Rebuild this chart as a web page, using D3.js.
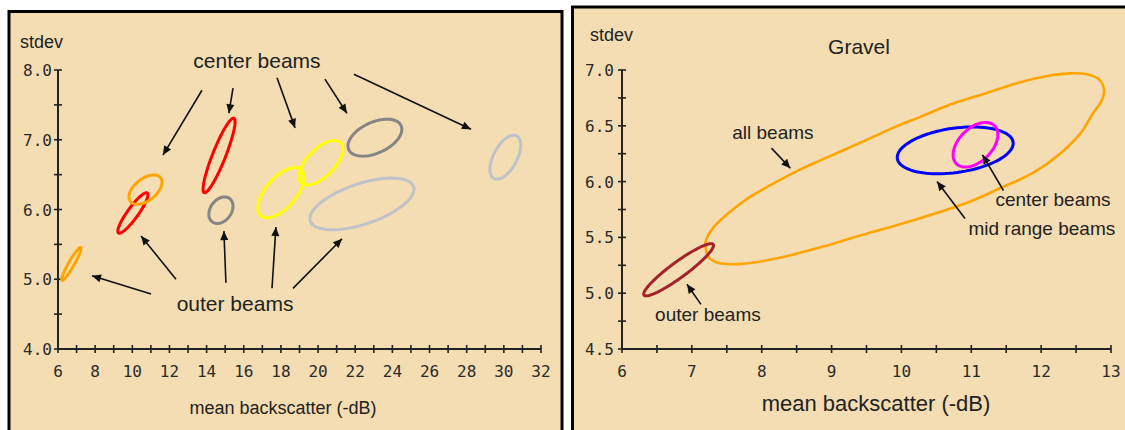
<!DOCTYPE html>
<html>
<head>
<meta charset="utf-8">
<script src="https://cdnjs.cloudflare.com/ajax/libs/d3/7.8.5/d3.min.js"></script>
<style>
  body { margin: 0; background: #fff; }
  svg { display: block; }
  text { fill: #222; font-family: "Liberation Sans", Arial, sans-serif; }
  .tick-label { font-family: "DejaVu Sans Mono", monospace; font-size: 16px; fill: #2a2a2a; }
</style>
</head>
<body>
<svg id="vis" width="1125" height="430"></svg>
<script>
// ---- left panel: one ellipse per beam group ----
const leftGroup   = ['outer', 'outer', 'center', 'center', 'outer', 'outer', 'center', 'center', 'outer', 'center'];
const leftMeanX   = [6.72, 10.03, 10.71, 14.67, 14.77, 18.0, 20.15, 23.06, 22.36, 30.08];
const leftMeanY   = [5.22, 5.95, 6.285, 6.775, 5.99, 6.24, 6.67, 7.03, 6.08, 6.75];
const leftSpreadX = [0.52, 0.81, 0.89, 0.86, 0.65, 1.24, 1.18, 1.45, 2.8, 0.83];
const leftSpreadY = [0.235, 0.29, 0.21, 0.535, 0.19, 0.36, 0.32, 0.265, 0.37, 0.315];
const leftCorr    = [0.94, 0.9, 0.5, 0.9, 0.3, 0.6, 0.62, 0.45, 0.57, 0.55];
const leftXTicks  = [6, 8, 10, 12, 14, 16, 18, 20, 22, 24, 26, 28, 30, 32];
const leftYTicks  = ['4.0', '5.0', '6.0', '7.0', '8.0'];

// ---- right panel (Gravel) ----
const rightGroup   = ['mid range', 'center', 'outer'];
const rightMeanX   = [10.77, 11.06, 6.81];
const rightMeanY   = [6.28, 6.33, 5.21];
const rightSpreadX = [0.83, 0.32, 0.5];
const rightSpreadY = [0.21, 0.2, 0.234];
const rightCorr    = [0.3, 0.45, 0.93];
const rightXTicks  = [6, 7, 8, 9, 10, 11, 12, 13];
const rightYTicks  = ['4.5', '5.0', '5.5', '6.0', '6.5', '7.0'];

// outline of the "all beams" region (gravel)
const allBeamsX = [7.20, 7.31, 7.51, 7.80, 8.13, 8.49, 8.84, 9.20, 9.56, 9.91, 10.27, 10.70, 11.20, 11.70, 12.13, 12.41, 12.67, 12.84, 12.90, 12.87, 12.74, 12.56, 12.27, 11.89, 11.41, 10.94, 10.46, 9.99, 9.37, 8.89, 8.41, 7.94, 7.56, 7.34, 7.23, 7.20];
const allBeamsY = [5.47, 5.59, 5.71, 5.85, 5.97, 6.09, 6.19, 6.29, 6.39, 6.49, 6.58, 6.69, 6.79, 6.89, 6.95, 6.97, 6.96, 6.91, 6.82, 6.73, 6.61, 6.43, 6.25, 6.08, 5.94, 5.81, 5.71, 5.62, 5.51, 5.42, 5.34, 5.28, 5.26, 5.28, 5.33, 5.40];

// annotations: [label, textX, textY] and arrows [fromX, fromY, toX, toY] in data units
const leftNotes = [['center beams', 16.71, 8.14], ['outer beams', 15.53, 4.66]];
const leftArrows = [
  [13.75, 7.71, 11.65, 6.78], [15.42, 7.74, 15.20, 7.38], [17.79, 7.89, 18.76, 7.17],
  [20.37, 7.87, 21.55, 7.38], [21.93, 7.94, 28.23, 7.15],
  [11.01, 4.79, 7.83, 5.05], [12.35, 5.00, 10.47, 5.62], [15.04, 4.95, 14.93, 5.69],
  [17.52, 4.87, 17.73, 5.75], [18.65, 4.87, 21.29, 5.58]
];
const rightNotes = [['all beams', 8.16, 6.44], ['center beams', 12.17, 5.84], ['mid range beams', 12.01, 5.58], ['outer beams', 7.23, 4.81]];
const rightArrows = [
  [8.14, 6.30, 8.41, 6.12], [11.46, 5.92, 11.16, 6.24], [10.91, 5.67, 10.51, 6.00], [7.13, 4.90, 6.93, 5.08]
];

const leftColors  = ['#ffa500', '#ff0000', '#ffa500', '#ff0000', '#858585', '#ffff00', '#ffff00', '#858585', '#bfc2c8', '#bfc2c8'];
const rightColors = ['#0000ff', '#ff00ff', '#a3232b'];
const bg = '#f4ddb2';

const svg = d3.select('#vis');

const defs = svg.append('defs');
defs.append('marker')
  .attr('id', 'head')
  .attr('viewBox', '0 -5 10 10')
  .attr('refX', 10).attr('refY', 0)
  .attr('markerUnits', 'userSpaceOnUse')
  .attr('markerWidth', 11).attr('markerHeight', 9)
  .attr('orient', 'auto')
  .append('path').attr('d', 'M0,-4.5L10,0L0,4.5Z').attr('fill', '#111');

// confidence ellipse from mean, spread and correlation
const ellipsePoints = (mx, my, sx, sy, r) => {
  const k = Math.sqrt(1 - r * r);
  return d3.range(0, 360, 4).map(a => {
    const t = a * Math.PI / 180;
    return [mx + sx * Math.cos(t), my + sy * (r * Math.cos(t) + k * Math.sin(t))];
  });
};

const drawAxes = function(g, x, y, xTicks, yTicks, xStep, yStep, labelGap) {
  const [x0, x1] = x.range();
  const [y0, y1] = y.range();
  g.append('line').attr('x1', x0).attr('x2', x1).attr('y1', y0).attr('y2', y0)
    .attr('stroke', '#222').attr('stroke-width', 2);
  g.append('line').attr('x1', x0).attr('x2', x0).attr('y1', y0).attr('y2', y1)
    .attr('stroke', '#222').attr('stroke-width', 2);

  const xd = x.domain(), yd = y.domain();
  const xMinor = d3.range(xd[0], xd[1] + xStep / 2, xStep);
  const yMinor = d3.range(yd[0], yd[1] + yStep / 2, yStep);

  g.selectAll('.xt').data(xMinor).enter().append('line')
    .attr('x1', d => x(d)).attr('x2', d => x(d))
    .attr('y1', y0 - 4).attr('y2', y0 + 4)
    .attr('stroke', '#222').attr('stroke-width', 1.6);
  g.selectAll('.yt').data(yMinor).enter().append('line')
    .attr('y1', d => y(d)).attr('y2', d => y(d))
    .attr('x1', x0 - 4).attr('x2', x0 + 4)
    .attr('stroke', '#222').attr('stroke-width', 1.6);

  g.selectAll('.xl').data(xTicks).enter().append('text')
    .attr('class', 'tick-label')
    .attr('x', d => x(d)).attr('y', y0 + 28)
    .attr('text-anchor', 'middle')
    .text(d => d);
  g.selectAll('.yl').data(yTicks).enter().append('text')
    .attr('class', 'tick-label')
    .attr('x', x0 - labelGap).attr('y', d => y(+d) + 6)
    .attr('text-anchor', 'end')
    .text(d => d);
};

const drawNotes = function(g, x, y, notes, arrows, size) {
  g.selectAll('.arrow').data(arrows).enter().append('line')
    .attr('x1', d => x(d[0])).attr('y1', d => y(d[1]))
    .attr('x2', d => x(d[2])).attr('y2', d => y(d[3]))
    .attr('stroke', '#111').attr('stroke-width', 1.6)
    .attr('marker-end', 'url(#head)');
  g.selectAll('.note').data(notes).enter().append('text')
    .attr('x', d => x(d[1])).attr('y', d => y(d[2]))
    .attr('dy', '0.36em')
    .attr('text-anchor', 'middle')
    .style('font-size', size + 'px')
    .text(d => d[0]);
};

// ---------- left panel ----------
const left = svg.append('g');
left.append('rect').attr('x', 9).attr('y', 11.5).attr('width', 553).attr('height', 440)
  .attr('fill', bg).attr('stroke', '#000').attr('stroke-width', 3);

const lx = d3.scaleLinear().domain([6, 32]).range([58, 541]);
const ly = d3.scaleLinear().domain([4, 8]).range([349, 70]);

drawAxes(left, lx, ly, leftXTicks, leftYTicks, 1, 0.5, 6);

const line = d3.line().curve(d3.curveLinearClosed);

left.selectAll('.ell').data(leftMeanX).enter().append('path')
  .attr('d', (d, i) => line(ellipsePoints(d, leftMeanY[i], leftSpreadX[i], leftSpreadY[i], leftCorr[i])
    .map(p => [lx(p[0]), ly(p[1])])))
  .attr('fill', 'none')
  .attr('stroke', (d, i) => leftColors[i])
  .attr('stroke-width', 3);

drawNotes(left, lx, ly, leftNotes, leftArrows, 21);

left.append('text').attr('x', 20).attr('y', 48).style('font-size', '18px').text('stdev');
left.append('text').attr('x', 283).attr('y', 414).attr('text-anchor', 'middle')
  .style('font-size', '18px').text('mean backscatter (-dB)');

// ---------- right panel ----------
const right = svg.append('g');
right.append('rect').attr('x', 572.5).attr('y', 7).attr('width', 600).attr('height', 440)
  .attr('fill', bg).attr('stroke', '#000').attr('stroke-width', 3);

const rx = d3.scaleLinear().domain([6, 13]).range([622, 1111]);
const ry = d3.scaleLinear().domain([4.5, 7]).range([349, 70]);

drawAxes(right, rx, ry, rightXTicks, rightYTicks, 0.5, 0.25, 8);

const smooth = d3.line().curve(d3.curveCatmullRomClosed.alpha(0.5));
right.append('path')
  .attr('d', smooth(allBeamsX.map((d, i) => [rx(d), ry(allBeamsY[i])])))
  .attr('fill', 'none').attr('stroke', '#ffa500').attr('stroke-width', 2.6);

right.selectAll('.ell').data(rightMeanX).enter().append('path')
  .attr('d', (d, i) => line(ellipsePoints(d, rightMeanY[i], rightSpreadX[i], rightSpreadY[i], rightCorr[i])
    .map(p => [rx(p[0]), ry(p[1])])))
  .attr('fill', 'none')
  .attr('stroke', (d, i) => rightColors[i])
  .attr('stroke-width', 3);

drawNotes(right, rx, ry, rightNotes, rightArrows, 19);

right.append('text').attr('x', 590).attr('y', 41).style('font-size', '18px').text('stdev');
right.append('text').attr('x', 859).attr('y', 54).attr('text-anchor', 'middle')
  .style('font-size', '21px').text('Gravel');
right.append('text').attr('x', 876).attr('y', 411).attr('text-anchor', 'middle')
  .style('font-size', '22px').text('mean backscatter (-dB)');
</script>
</body>
</html>
